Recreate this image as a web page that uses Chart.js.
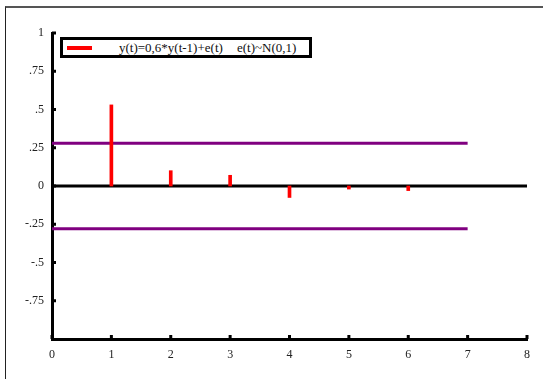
<!DOCTYPE html>
<html>
<head>
<meta charset="utf-8">
<script src="https://cdn.jsdelivr.net/npm/chart.js@4/dist/chart.umd.min.js"></script>
<style>
  html, body { margin: 0; padding: 0; background: #fff; }
  #wrap { position: relative; width: 543px; height: 379px; overflow: hidden; }
  #frame { position: absolute; left: 5px; top: 6px; width: 600px; height: 400px;
           border-left: 1px solid #222; border-top: 2px solid #555; }
  #chart { position: absolute; left: 0; top: 0; }
  #legend { position: absolute; left: 60px; top: 37px; width: 252px; height: 21px;
            box-sizing: border-box; border: 3px solid #000; background: #fff;
            font: 13px "Liberation Serif", "Times New Roman", serif; color: #111; }
  #legend .swatch { position: absolute; left: 4px; top: 6px; width: 25px; height: 4px; background: #ff0000; }
  #legend .t1 { position: absolute; left: 56px; top: 0px; white-space: nowrap; line-height: 15px; }
  #legend .t2 { position: absolute; left: 174px; top: 0px; white-space: nowrap; line-height: 15px; }
</style>
</head>
<body>
<div id="wrap">
  <div id="frame"></div>
  <canvas id="chart" width="543" height="379"></canvas>
  <div id="legend">
    <div class="swatch"></div>
    <span class="t1">y(t)=0,6*y(t-1)+e(t)</span>
    <span class="t2">e(t)~N(0,1)</span>
  </div>
</div>
<script>
// autocorrelations
const lags = [1, 2, 3, 4, 5, 6];
const acf = [0.53, 0.10, 0.07, -0.075, -0.02, -0.03];

// confidence band and its extent
const bandUpper = 0.28;
const bandLower = -0.28;
const bandX = [0, 7];
const zeroX = [0, 8];

const xTicks = [0, 1, 2, 3, 4, 5, 6, 7, 8];
const yTicks = [1, 0.75, 0.5, 0.25, 0, -0.25, -0.5, -0.75];
const yTickLabels = ['1', '.75', '.5', '.25', '0', '-.25', '-.5', '-.75'];

const tickFont = { family: '"Liberation Serif", "Times New Roman", serif', size: 12 };

// little inward tick marks like the original
const innerTicks = {
    id: 'innerTicks',
    afterDraw(chart) {
        const ctx = chart.ctx;
        const xs = chart.scales.x, ys = chart.scales.y;
        ctx.save();
        ctx.fillStyle = '#000';
        yTicks.forEach(v => {
            const py = ys.getPixelForValue(v);
            ctx.fillRect(xs.left, py - 1.5, 4, 3);
        });
        xTicks.forEach(v => {
            const px = xs.getPixelForValue(v);
            ctx.fillRect(px - 1.5, ys.bottom - 4, 3, 4);
        });
        ctx.restore();
    }
};

new Chart(document.getElementById('chart'), {
    type: 'bar',
    data: {
        datasets: [
            {
                type: 'bar',
                data: lags.map((l, i) => ({ x: l, y: acf[i] })),
                backgroundColor: '#ff0000',
                barThickness: 3,
                order: 0
            },
            {
                type: 'line',
                data: zeroX.map(x => ({ x: x, y: 0 })),
                borderColor: '#000',
                borderWidth: 3,
                pointRadius: 0,
                order: 1
            },
            {
                type: 'line',
                data: bandX.map(x => ({ x: x, y: bandUpper })),
                borderColor: '#800080',
                borderWidth: 3,
                pointRadius: 0,
                order: 2
            },
            {
                type: 'line',
                data: bandX.map(x => ({ x: x, y: bandLower })),
                borderColor: '#800080',
                borderWidth: 3,
                pointRadius: 0,
                order: 2
            }
        ]
    },
    options: {
        responsive: false,
        animation: false,
        layout: { padding: { top: 33, right: 16, left: 0, bottom: 0 } },
        plugins: { legend: { display: false }, tooltip: { enabled: false } },
        scales: {
            x: {
                type: 'linear',
                min: 0, max: 8,
                offset: false,
                grid: { display: false, drawTicks: false },
                border: { display: true, color: '#000', width: 3 },
                afterBuildTicks: s => { s.ticks = xTicks.map(v => ({ value: v })); },
                afterFit: s => { s.height = 40; },
                ticks: { color: '#222', font: tickFont, padding: 9, maxRotation: 0 }
            },
            y: {
                min: -1, max: 1,
                grid: { display: false, drawTicks: false },
                border: { display: true, color: '#000', width: 3 },
                afterBuildTicks: s => { s.ticks = yTicks.map(v => ({ value: v })); },
                afterFit: s => { s.width = 52; },
                ticks: {
                    color: '#222', font: tickFont, padding: 8,
                    callback: v => yTickLabels[yTicks.indexOf(v)]
                }
            }
        }
    },
    plugins: [innerTicks]
});
</script>
</body>
</html>
